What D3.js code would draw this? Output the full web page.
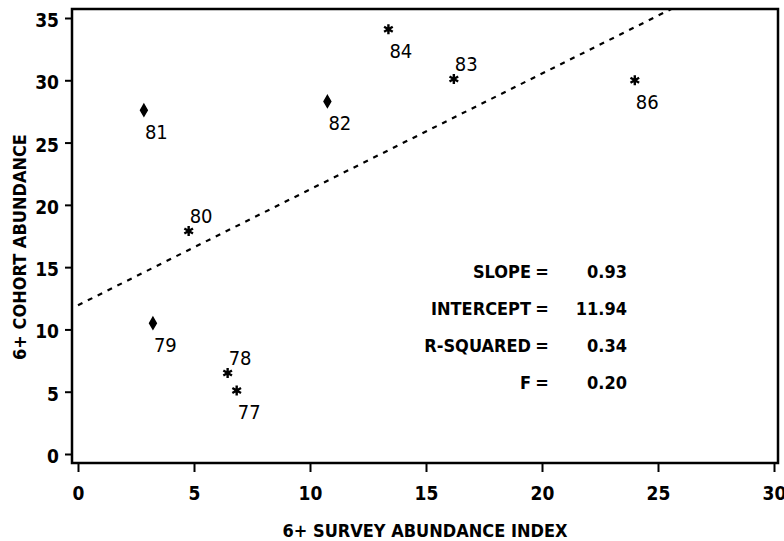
<!DOCTYPE html>
<html>
<head>
<meta charset="utf-8">
<script src="https://cdn.jsdelivr.net/npm/d3@7"></script>
<style>
  body { margin: 0; background: #fff; }
  text { font-family: "Liberation Sans Narrow", "DejaVu Sans Condensed", "DejaVu Sans", sans-serif; fill: #000; }
</style>
</head>
<body>
<svg id="chart" width="784" height="541"></svg>
<script>
// Data
var years = ['77', '78', '79', '80', '81', '82', '83', '84', '86']
var surveyIndex = [6.84, 6.45, 3.23, 4.77, 2.84, 10.75, 16.2, 13.38, 24.0]
var cohortAbundance = [5.1, 6.5, 10.5, 17.9, 27.6, 28.3, 30.1, 34.1, 30.0]
var markerType = ['star', 'star', 'dot', 'star', 'dot', 'dot', 'star', 'star', 'star']

var xTicks = [0, 5, 10, 15, 20, 25, 30]
var yTicks = [0, 5, 10, 15, 20, 25, 30, 35]

var statLabels = ['SLOPE', 'INTERCEPT', 'R-SQUARED', 'F']
var statValues = [0.93, 11.94, 0.34, 0.20]

var xTitle = '6+ SURVEY ABUNDANCE INDEX'
var yTitle = '6+ COHORT ABUNDANCE'

// Layout
var frame = { left: 72, right: 778, top: 9, bottom: 463 }

var svg = d3.select('#chart')

var x = d3.scaleLinear().domain([0, 30]).range([78, 774])
var y = d3.scaleLinear().domain([0, 35]).range([454, 18])

var points = years.map(function (yr, i) {
  return { year: yr, x: surveyIndex[i], y: cohortAbundance[i], type: markerType[i] }
})

svg.append('defs').append('clipPath').attr('id', 'plot-clip')
  .append('rect')
  .attr('x', frame.left).attr('y', frame.top)
  .attr('width', frame.right - frame.left).attr('height', frame.bottom - frame.top)

// Axes
var xAxis = svg.append('g')
  .attr('transform', 'translate(0,' + frame.bottom + ')')
  .call(d3.axisBottom(x).tickValues(xTicks).tickSize(9).tickPadding(15))
var yAxis = svg.append('g')
  .attr('transform', 'translate(' + frame.left + ',0)')
  .call(d3.axisLeft(y).tickValues(yTicks).tickSize(7).tickPadding(6))

;[xAxis, yAxis].forEach(function (ax) {
  ax.select('.domain').remove()
  ax.selectAll('line').attr('stroke', '#000').attr('stroke-width', 2)
  ax.selectAll('text')
    .style('font-size', '19px')
    .style('font-weight', 'bold')
})
yAxis.selectAll('text').attr('dy', '0.45em')

// Frame
svg.append('rect')
  .attr('x', frame.left).attr('y', frame.top)
  .attr('width', frame.right - frame.left).attr('height', frame.bottom - frame.top)
  .attr('fill', 'none').attr('stroke', '#000').attr('stroke-width', 2.5)

// Regression line from the printed slope and intercept
var slope = statValues[0], intercept = statValues[1]
var xEnd = (y.invert(frame.top) - intercept) / slope
svg.append('line')
  .attr('clip-path', 'url(#plot-clip)')
  .attr('x1', x(0)).attr('y1', y(intercept))
  .attr('x2', x(xEnd)).attr('y2', y(intercept + slope * xEnd))
  .attr('stroke', '#000').attr('stroke-width', 2.2)
  .attr('stroke-dasharray', '5,6')

// Markers
var dot = d3.symbol().type(d3.symbolDiamond).size(40)
var star = d3.symbol().type(d3.symbolAsterisk).size(70)
svg.append('g').selectAll('path')
  .data(points)
  .join('path')
  .attr('transform', function (d) { return 'translate(' + x(d.x) + ',' + y(d.y) + ')' })
  .attr('d', function (d) { return d.type === 'dot' ? dot() : star() })
  .attr('fill', '#000')
  .attr('stroke', '#000')
  .attr('stroke-width', function (d) { return d.type === 'dot' ? 1.5 : 2.4 })

// Year labels: most sit below the marker, a few above
var labelAbove = { '78': true, '80': true, '83': true }
svg.append('g').selectAll('text')
  .data(points)
  .join('text')
  .attr('x', function (d) { return x(d.x) + 1 })
  .attr('y', function (d) { return y(d.y) + (labelAbove[d.year] ? -8 : 29) })
  .style('font-size', '20px')
  .text(function (d) { return d.year })

// Regression statistics
var fmt = d3.format('.2f')
var stats = svg.append('g').selectAll('g')
  .data(statLabels)
  .join('g')
  .attr('transform', function (d, i) { return 'translate(0,' + (278 + i * 37) + ')' })
stats.append('text')
  .attr('x', 531).attr('text-anchor', 'end')
  .text(function (d) { return d })
stats.append('text')
  .attr('x', 542).attr('text-anchor', 'middle')
  .text('=')
stats.append('text')
  .attr('x', 627).attr('text-anchor', 'end')
  .text(function (d, i) { return fmt(statValues[i]) })
stats.selectAll('text').style('font-size', '18px').style('font-weight', 'bold')

// Axis titles
svg.append('text')
  .attr('x', (frame.left + frame.right) / 2).attr('y', 537)
  .attr('text-anchor', 'middle')
  .style('font-size', '18px').style('font-weight', 'bold')
  .text(xTitle)
svg.append('text')
  .attr('transform', 'translate(26,247) rotate(-90)')
  .attr('text-anchor', 'middle')
  .style('font-size', '18px').style('font-weight', 'bold')
  .text(yTitle)
</script>
</body>
</html>
